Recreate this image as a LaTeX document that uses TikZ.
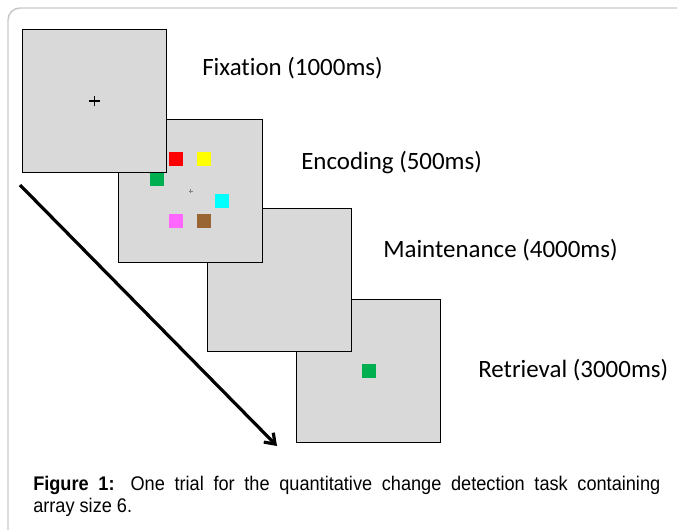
\documentclass[tikz,border=0pt]{standalone}
\usepackage{fontspec}
\setmainfont{Liberation Sans}
\newfontfamily\labelfont[Ligatures=NoCommon]{Carlito}
\newfontfamily\capfont[FakeStretch=0.92]{Liberation Sans}
\usetikzlibrary{arrows.meta}

\definecolor{screen}{HTML}{D9D9D9}
\definecolor{framegray}{HTML}{C8C8C8}
\definecolor{sqred}{HTML}{FF0000}
\definecolor{sqyellow}{HTML}{FFFF00}
\definecolor{sqgreen}{HTML}{00B050}
\definecolor{sqcyan}{HTML}{00FFFF}
\definecolor{sqpink}{HTML}{FF66FF}
\definecolor{sqbrown}{HTML}{996633}

\tikzset{
  display/.style={draw=black, line width=1pt, fill=screen, rectangle,
    minimum width=108pt, minimum height=107.25pt, inner sep=0pt, anchor=north west},
  patch/.style={rectangle, minimum size=10.5pt, inner sep=0pt, fill=#1},
  phase/.style={anchor=base west, inner sep=0pt,
    font=\labelfont\fontsize{18.7}{22}\selectfont},
  timeline/.style={line width=2.4pt, -{Straight Barb[length=7pt,width=10pt]}},
}

\begin{document}
\begin{tikzpicture}[x=0.75pt, y=-0.75pt]
  \useasboundingbox (0,0) rectangle (677,529);
  \fill[white] (0,0) rectangle (677,529);

  % outer panel frame
  \draw[framegray, line width=1.1pt, rounded corners=9pt]
    (8,540) -- (8,8) -- (690,8);

  % screens, back to front
  \node[display] (retrieval) at (296,299) {};
  \node[patch=sqgreen] (probe) at (retrieval.center) {};

  \node[display] (maintenance) at (207,208) {};

  \node[display] (encoding) at (118,119) {};
  \draw[gray, line width=0.4pt] ([xshift=-1.5pt]encoding.center) -- ([xshift=1.5pt]encoding.center)
    ([yshift=-1.5pt]encoding.center) -- ([yshift=1.5pt]encoding.center);
  \node[patch=sqred]    (pred)    at (176,159) {};
  \node[patch=sqyellow] (pyellow) at (204,159) {};
  \node[patch=sqgreen]  (pgreen)  at (157,178.5) {};
  \node[patch=sqcyan]   (pcyan)   at (222,201) {};
  \node[patch=sqpink]   (ppink)   at (176,221) {};
  \node[patch=sqbrown]  (pbrown)  at (204,221) {};

  \node[display] (fixation) at (22,29) {};
  \draw[black, line width=1.1pt] ([xshift=-3.9pt]fixation.center) -- ([xshift=3.9pt]fixation.center)
    ([yshift=-3.9pt]fixation.center) -- ([yshift=3.9pt]fixation.center);

  % phase labels
  \node[phase] (lfix) at (202,75)  {Fixation (1000ms)};
  \node[phase] (lenc) at (301,169) {Encoding (500ms)};
  \node[phase] (lmnt) at (383,257) {Maintenance (4000ms)};
  \node[phase] (lret) at (478,377) {Retrieval (3000ms)};

  % time arrow
  \coordinate (tstart) at (20,185);
  \coordinate (tend)   at (277,446);
  \draw[timeline] (tstart) -- (tend);

  % caption
  \node[anchor=base west, inner sep=0pt] (caption) at (33,490)
    {\parbox[t]{470.25pt}{\capfont\fontsize{14.8}{16.5}\selectfont
      \textbf{Figure 1:} One trial for the quantitative change detection task containing\linebreak
      array size 6.}};
\end{tikzpicture}
\end{document}
